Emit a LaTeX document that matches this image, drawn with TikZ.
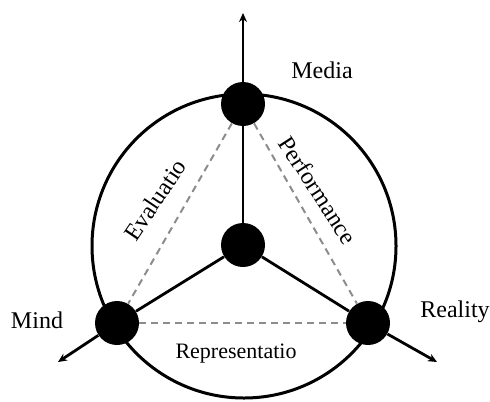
\documentclass[tikz,border=0pt]{standalone}
\usepackage{fontspec}
\setmainfont{Liberation Serif}
\usetikzlibrary{arrows.meta}

\begin{document}
\begin{tikzpicture}[
  x=0.5pt, y=-0.5pt,
  font=\fontsize{12}{14}\selectfont,
  >={Stealth[length=4.5pt,width=4pt]},
  hub/.style={circle, fill=black, minimum size=22pt, inner sep=0pt},
  rim/.style={line width=1.5pt, black},
  spoke/.style={line width=1.4pt, black},
  axis/.style={->, line width=1.4pt, black},
  link/.style={line width=1pt, black!45, dash pattern=on 3.5pt off 2.5pt},
  facet/.style={font=\fontsize{12}{14}\selectfont},
]
\useasboundingbox (0,0) rectangle (490,401);

% outer ring
\coordinate (ring) at (244,246);
\draw[rim] (ring) circle[radius=152];

% poles
\node[hub] (core)    at (243,245) {};
\node[hub] (media)   at (243,104) {};
\node[hub] (mind)    at (117,323) {};
\node[hub] (reality) at (368,323) {};

% free ends of the axes
\coordinate (mediaend)   at (243,13);
\coordinate (mindend)    at (58,362);
\coordinate (realityend) at (437,362);

% dashed triangle between the outer poles
\draw[link] (media) -- (mind);
\draw[link] (media) -- (reality);
\draw[link] (mind) -- (reality);

% spokes from the core
\draw[spoke] (core) -- (media);
\draw[spoke] (core) -- (mind);
\draw[spoke] (core) -- (reality);

% axes leaving the ring
\draw[axis] (media) -- (mediaend);
\draw[axis] (mind) -- (mindend);
\draw[axis] (reality) -- (realityend);

% pole names
\node[facet] (medialab)   at (322,70)  {Media};
\node[facet] (mindlab)    at (37,320)  {Mind};
\node[facet] (realitylab) at (455,312) {Reality};

% relations
\node[facet, rotate=56]  (evallab) at (155,200) {Evaluatio};
\node[facet, rotate=-57] (perflab) at (318,190) {Performance};
\node[font=\fontsize{11}{13}\selectfont] (replab) at (236,354) {Representatio};
\end{tikzpicture}
\end{document}
